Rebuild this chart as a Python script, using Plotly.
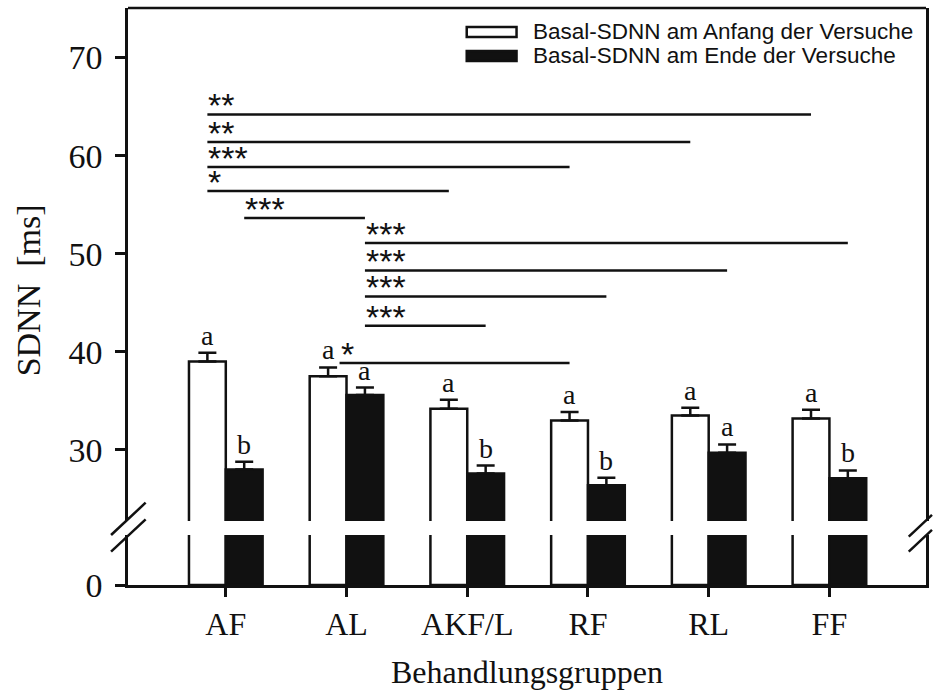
import plotly.graph_objects as go

# ---- data -------------------------------------------------------------
groups = ["AF", "AL", "AKF/L", "RF", "RL", "FF"]
series_names = ["Basal-SDNN am Anfang der Versuche", "Basal-SDNN am Ende der Versuche"]

sdnn_start = [39.0, 37.5, 34.2, 33.0, 33.5, 33.2]
sem_start = [0.9, 0.9, 0.9, 0.85, 0.8, 0.9]
sdnn_end = [28.0, 35.6, 27.6, 26.4, 29.7, 27.1]
sem_end = [0.8, 0.75, 0.8, 0.75, 0.85, 0.8]

letters_start = ["a", "a", "a", "a", "a", "a"]
letters_end = ["b", "a", "b", "b", "a", "b"]

# pairwise comparisons: (group A, series A, group B, series B, stars, bracket height in ms)
comparisons = [
    (0, 0, 5, 0, "**", 64.2),
    (0, 0, 4, 0, "**", 61.4),
    (0, 0, 3, 0, "***", 58.85),
    (0, 0, 2, 0, "*", 56.4),
    (0, 1, 1, 1, "***", 53.65),
    (1, 1, 5, 1, "***", 51.1),
    (1, 1, 4, 1, "***", 48.3),
    (1, 1, 3, 1, "***", 45.65),
    (1, 1, 2, 1, "***", 42.65),
    (1, 0, 3, 0, "*", 38.85),
]

# ---- layout constants ---------------------------------------------------
W, H = 935, 699
ML, MR, MT, MB = 128, 6, 8, 114
PW, PH = W - ML - MR, H - MT - MB

SERIF = "Liberation Serif"
SANS = "Liberation Sans"
INK = "#111111"
LW = 2.5

BARGAP = 0.39
half = (1 - BARGAP) / 4          # offset of each bar centre from the group tick
idx = list(range(len(groups)))

UPPER_RANGE = [22.75, 75.05]
LOWER_RANGE = [0, 5]
lower_top = (H - MB - 535) / PH     # top of the lower (zero) segment
upper_bot = (H - MB - 521) / PH     # bottom of the upper segment


def px_x(p):
    return (p - ML) / PW


def px_y(p):
    return (H - MB - p) / PH


fig = go.Figure()

styles = [
    dict(color="white", line=dict(color=INK, width=LW)),
    dict(color=INK, line=dict(color=INK, width=LW)),
]
values = [sdnn_start, sdnn_end]
errors = [sem_start, sem_end]

for s in range(2):
    # upper segment with SEM whiskers
    fig.add_trace(go.Bar(
        x=idx, y=values[s], name=series_names[s], yaxis="y2", xaxis="x",
        marker=styles[s], offsetgroup=str(s), showlegend=False,
        error_y=dict(type="data", symmetric=False, array=errors[s],
                     arrayminus=[0] * len(groups), color=INK,
                     thickness=LW, width=9),
        hoverinfo="skip",
    ))
    # lower segment near zero
    fig.add_trace(go.Bar(
        x=idx, y=values[s], name=series_names[s], yaxis="y", xaxis="x",
        marker=styles[s], offsetgroup=str(s), showlegend=False,
        hoverinfo="skip",
    ))

annotations = []
shapes = []

# letters above the whiskers
for s, letters in enumerate([letters_start, letters_end]):
    off = -half if s == 0 else half
    for i, lab in enumerate(letters):
        annotations.append(dict(
            x=i + off, y=values[s][i] + errors[s][i], xref="x", yref="y2",
            text=lab, showarrow=False, yanchor="bottom", xanchor="center",
            font=dict(family=SERIF, size=28, color=INK),
        ))

# significance brackets
for ga, sa, gb, sb, stars, level in comparisons:
    x0 = ga + (-half if sa == 0 else half)
    x1 = gb + (-half if sb == 0 else half)
    top_a = values[sa][ga] + errors[sa][ga]
    if level - top_a < 3.0:
        # keep clear of the letter sitting on the starting bar
        x0 += 0.095
    shapes.append(dict(type="line", xref="x", yref="y2", x0=x0, x1=x1,
                       y0=level, y1=level, line=dict(color=INK, width=LW)))
    annotations.append(dict(
        x=x0, y=level, xref="x", yref="y2", text=stars, showarrow=False,
        xanchor="left", yanchor="bottom", yshift=-12, xshift=-1,
        font=dict(family=SANS, size=34, color=INK),
    ))

# top border
shapes.append(dict(type="line", xref="paper", yref="paper", x0=0, x1=1,
                   y0=1, y1=1, line=dict(color=INK, width=LW)))

# axis-break marks on both sides
for (ax0, ay0, ax1, ay1) in [
    (111, 535, 145.7, 502.7), (111, 551.7, 145.7, 519.3),
    (911.7, 536.7, 935, 514.9), (911.7, 551.7, 935, 529.9),
]:
    shapes.append(dict(type="line", xref="paper", yref="paper",
                       x0=px_x(ax0), y0=px_y(ay0), x1=px_x(ax1), y1=px_y(ay1),
                       line=dict(color=INK, width=LW)))

# legend drawn as swatches + labels
leg_rows = [32, 56]
for s in range(2):
    cy = leg_rows[s]
    shapes.append(dict(type="rect", xref="paper", yref="paper",
                       x0=px_x(468), x1=px_x(518),
                       y0=px_y(cy + 5), y1=px_y(cy - 5),
                       fillcolor=styles[s]["color"],
                       line=dict(color=INK, width=LW)))
    annotations.append(dict(
        x=px_x(533), y=px_y(cy), xref="paper", yref="paper",
        text=series_names[s], showarrow=False, xanchor="left", yanchor="middle",
        font=dict(family=SANS, size=22.5, color=INK),
    ))

# y-axis title spanning the whole axis
annotations.append(dict(
    x=px_x(28), y=px_y(290), xref="paper", yref="paper",
    text="SDNN\u00a0\u00a0[ms]", textangle=-90, showarrow=False,
    xanchor="center", yanchor="middle",
    font=dict(family=SERIF, size=34, color=INK),
))

fig.update_layout(
    width=W, height=H,
    margin=dict(l=ML, r=MR, t=MT, b=MB, pad=0),
    paper_bgcolor="white", plot_bgcolor="white",
    barmode="group", bargap=BARGAP, bargroupgap=0,
    showlegend=False,
    xaxis=dict(
        range=[-0.81, 5.8], tickvals=idx, ticktext=groups,
        showline=True, linecolor=INK, linewidth=LW,
        ticks="outside", ticklen=9, tickwidth=LW, tickcolor=INK,
        tickfont=dict(family=SERIF, size=32, color=INK),
        showgrid=False, zeroline=False, anchor="y",
        title=dict(text="Behandlungsgruppen", standoff=20,
                   font=dict(family=SERIF, size=32, color=INK)),
    ),
    yaxis=dict(
        domain=[0, lower_top], range=LOWER_RANGE, tickvals=[0],
        showline=True, mirror=True, linecolor=INK, linewidth=LW,
        ticks="outside", ticklen=10, tickwidth=LW, tickcolor=INK,
        tickfont=dict(family=SERIF, size=34, color=INK),
        showgrid=False, zeroline=False, ticklabelstandoff=6,
    ),
    yaxis2=dict(
        domain=[upper_bot, 1], range=UPPER_RANGE, tickvals=[30, 40, 50, 60, 70],
        showline=True, mirror=True, linecolor=INK, linewidth=LW,
        ticks="outside", ticklen=10, tickwidth=LW, tickcolor=INK,
        tickfont=dict(family=SERIF, size=34, color=INK),
        showgrid=False, zeroline=False, anchor="x", ticklabelstandoff=6,
    ),
    annotations=annotations,
    shapes=shapes,
)

fig.write_html("out.html")
